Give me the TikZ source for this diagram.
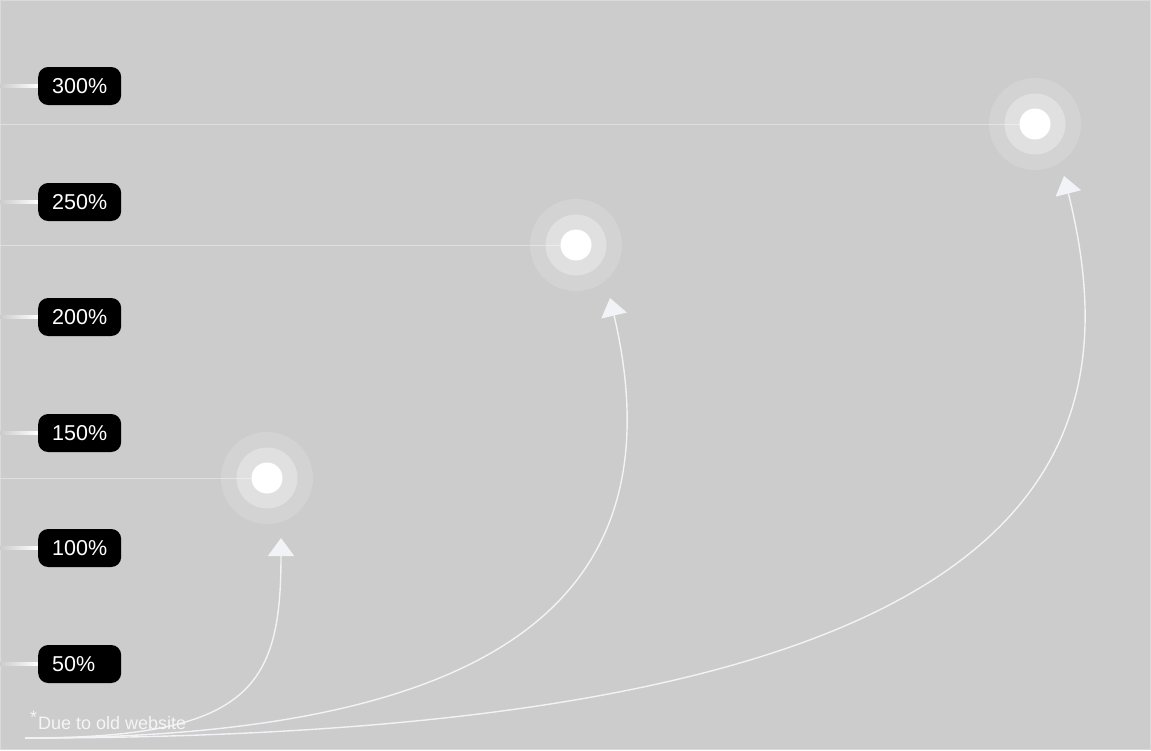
\documentclass[tikz,border=0pt]{standalone}
\usepackage{fontspec}
\setmainfont{Liberation Sans}
\usetikzlibrary{arrows.meta}

\definecolor{bggray}{HTML}{CCCCCC}
\definecolor{edgegray}{HTML}{DADADA}
\definecolor{guidegray}{HTML}{DFDFDF}
\definecolor{flowwhite}{HTML}{F2F3F6}
\definecolor{notegray}{HTML}{F5F5F5}

\tikzset{
  pct/.style={fill=black, text=white, rounded corners=10pt, anchor=west,
    minimum height=38pt, text width=55pt, inner xsep=14pt, inner ysep=0pt,
    align=left, font=\fontsize{21.5}{24}\selectfont},
  tick/.style={left color=bggray, right color=white},
  guide/.style={draw=guidegray, line width=1pt},
  halo/.style={circle, fill=white, fill opacity=#1, inner sep=0pt},
  dot/.style={circle, fill=white, minimum size=31pt, inner sep=0pt},
  flow/.style={draw=flowwhite, line width=1.4pt,
    -{Triangle[length=18pt, width=26pt, fill=flowwhite]}},
  note/.style={text=notegray, font=\fontsize{18}{20}\selectfont, inner sep=0pt}
}

\begin{document}
\begin{tikzpicture}[x=1pt, y=-1pt]
  \useasboundingbox (0,0) rectangle (1151,750);
  \fill[bggray] (0,0) rectangle (1151,750);
  \draw[edgegray, line width=1pt] (0.5,0.5) rectangle (1150.5,749.5);

  % percentage labels
  \foreach \v/\y in {300/86, 250/202, 200/317, 150/433, 100/548, 50/664} {
    \shade[tick] (0,\y-1.5) rectangle (38,\y+1.5);
    \node[pct] (p\v) at (38,\y) {\v\%};
  }

  % targets
  \foreach \n/\cx/\cy in {A/267/478, B/576/245, C/1035/124} {
    \coordinate (c\n) at (\cx,\cy);
    \draw[guide] (0,\cy) -- (c\n);
    \node[halo=0.15, minimum size=92pt] (r\n) at (c\n) {};
    \node[halo=0.3, minimum size=61pt] (m\n) at (c\n) {};
    \node[dot] (d\n) at (c\n) {};
  }

  \coordinate (start) at (25,738);
  \coordinate (tipA) at (281,538);
  \coordinate (tipB) at (610,298);
  \coordinate (tipC) at (1064,176);

  \draw[flow] (start) .. controls (250,738) and (281,688) .. (tipA);
  \draw[flow] (start) .. controls (500,738) and (680,598) .. (tipB);
  \draw[flow] (start) .. controls (1050,738) and (1134,456) .. (tipC);

  \node[note, anchor=base west] (note) at (30,729)
    {\raisebox{6pt}{*}\kern1pt Due to old website};
\end{tikzpicture}
\end{document}
